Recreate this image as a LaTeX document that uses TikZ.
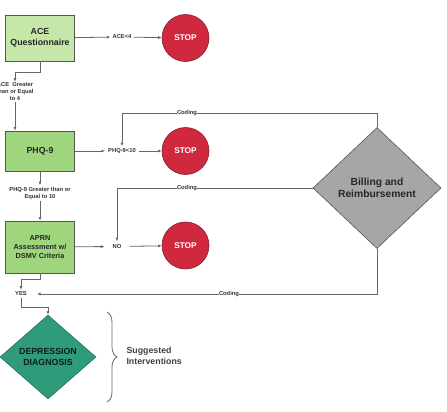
\documentclass[tikz,border=0pt]{standalone}
\usepackage{fontspec}
\setmainfont{Liberation Sans}
\usetikzlibrary{shapes.geometric,arrows.meta,decorations.pathreplacing}
\definecolor{acegreen}{HTML}{C6E7A9}
\definecolor{phqgreen}{HTML}{9ED57D}
\definecolor{boxline}{HTML}{555555}
\definecolor{stopred}{HTML}{D0293F}
\definecolor{stopline}{HTML}{8A1A2A}
\definecolor{billgray}{HTML}{A6A6A6}
\definecolor{depgreen}{HTML}{2F9B7B}
\definecolor{linegray}{HTML}{666666}
\begin{document}
\begin{tikzpicture}[x=1pt,y=-1pt,
  box/.style={draw=boxline, line width=0.9pt, minimum width=69pt, align=center, font=\bfseries\fontsize{8.8}{11}\selectfont, text=black!85},
  stopc/.style={circle, draw=stopline, line width=0.6pt, fill=stopred, minimum size=47pt, inner sep=0pt, text=white, font=\bfseries\fontsize{8.3}{10}\selectfont},
  lbl/.style={font=\bfseries\fontsize{5.8}{7}\selectfont, text=black!80, align=center, inner sep=2pt},
  codel/.style={lbl, fill=white, inner sep=0.5pt},
  conn/.style={draw=linegray, line width=0.8pt},
  arr/.style={conn, -{Latex[length=3.5pt,width=3pt]}},
]
\useasboundingbox (0,0) rectangle (447,412);
% nodes
\node[box, fill=acegreen, minimum height=46pt] (ace) at (40,38) {ACE\\Questionnaire};
\node[stopc] (stop1) at (185.5,38) {STOP};
\node[lbl] (acelt) at (122,37) {ACE<4};
\node[lbl, inner sep=1pt] (acege) at (15,92) {ACE\ \ Greater\\than or Equal\\to 4};
\node[box, fill=phqgreen, minimum height=40pt] (phq) at (40,151) {PHQ-9};
\node[lbl, inner xsep=3pt] (phqlt) at (122,151) {PHQ-9<10};
\node[stopc] (stop2) at (185.5,151) {STOP};
\node[lbl, inner sep=1.5pt] (phqge) at (40,193) {PHQ-9 Greater than or\\Equal to 10};
\node[box, fill=phqgreen, minimum height=52pt, font=\bfseries\fontsize{7.3}{8.7}\selectfont] (aprn) at (40,247) {APRN\\Assessment w/\\DSMV Criteria};
\node[lbl, inner xsep=8pt, inner ysep=3pt] (no) at (117,246.5) {NO};
\node[stopc] (stop3) at (185.5,245.5) {STOP};
\node[diamond, draw=boxline, line width=0.6pt, fill=billgray, minimum width=128pt, minimum height=121pt, inner sep=0pt, align=center, font=\bfseries\fontsize{10.3}{12}\selectfont, text=black!85] (bill) at (377,188) {Billing and\\Reimbursement};
\node[lbl] (yes) at (21,294) {YES};
\node[diamond, draw=depgreen!70!black, line width=0.5pt, fill=depgreen, minimum width=96pt, minimum height=84pt, inner sep=0pt, align=center, font=\bfseries\fontsize{8.8}{10.3}\selectfont, text=black!80!depgreen] (dep) at (48,357) {DEPRESSION\\DIAGNOSIS};
\node[anchor=west, align=left, font=\bfseries\fontsize{8.8}{10.5}\selectfont, text=black!75] (sugg) at (123,356) {Suggested\\Interventions};
% connectors
\draw[arr] (ace) -- (acelt);
\draw[arr] (acelt) -- (stop1);
\draw[arr] (ace.south) -- ++(0,11) -| (acege.north);
\draw[arr] (acege.south) -- (phq.north -| acege.south);
\draw[arr] (phq) -- (phqlt);
\draw[arr] (phqlt) -- (stop2);
\draw[arr] (phq) -- (phqge);
\draw[arr] (phqge) -- (aprn);
\draw[arr] (aprn) -- (no);
\draw[arr] (no) -- (stop3);
\draw[arr] (aprn.south) -- ++(0,6) -| (yes.north);
\draw[arr] (yes.south) -- ++(0,9) -| (dep.north);
\draw[arr] (bill.north) -- ++(0,-14) -| (phqlt.north);
\draw[arr] (bill.west) -| (no.north);
\draw[arr, shorten >=8pt] (bill.south) |- (yes.east);
% coding labels
\node[codel] (cod1) at (187,113.5) {Coding};
\node[codel] (cod2) at (187,188) {Coding};
\node[codel] (cod3) at (229,294) {Coding};
% brace
\draw[linegray, line width=0.8pt, decorate, decoration={brace, amplitude=10pt}] (107,312) -- (107,402);
\end{tikzpicture}
\end{document}
